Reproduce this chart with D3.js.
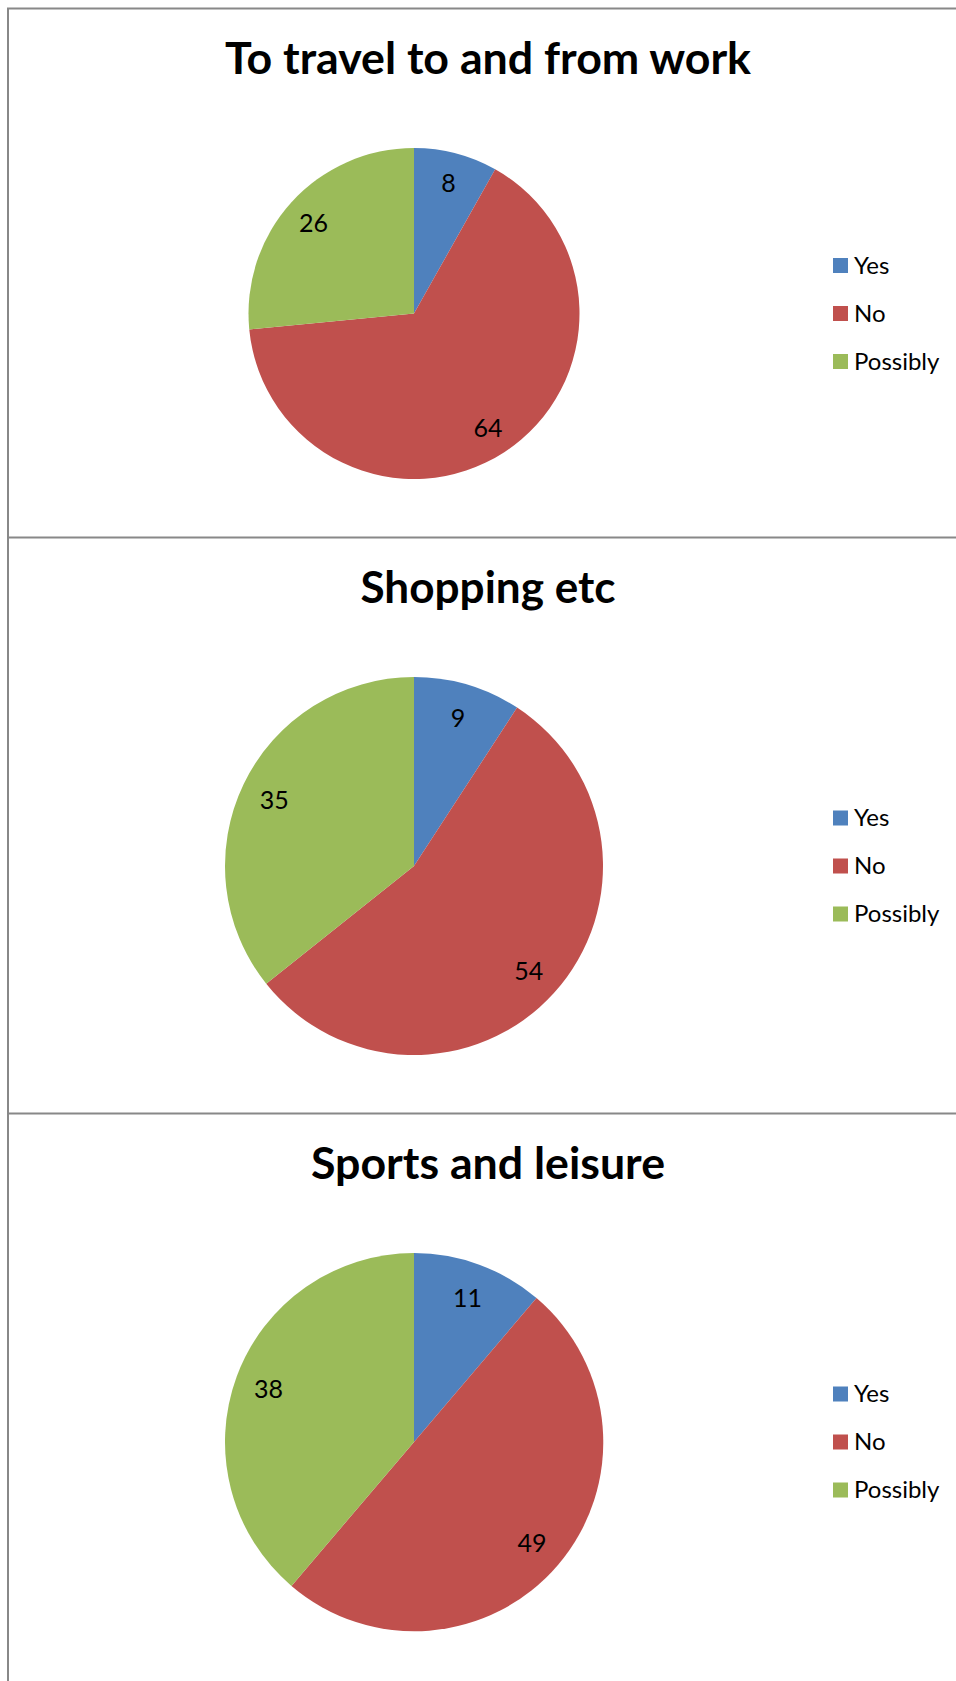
<!DOCTYPE html>
<html>
<head>
<meta charset="utf-8">
<script src="https://cdn.jsdelivr.net/npm/d3@7"></script>
<style>
  html, body { margin: 0; padding: 0; background: #ffffff; }
  svg { display: block; }
</style>
</head>
<body>
<div id="chart"></div>
<script>
// Survey answers, one pie per journey purpose
const titles = ["To travel to and from work", "Shopping etc", "Sports and leisure"];
const answers = ["Yes", "No", "Possibly"];
const travelToWork = [8, 64, 26];
const shopping = [9, 54, 35];
const sportsLeisure = [11, 49, 38];
const panelValues = [travelToWork, shopping, sportsLeisure];

const colors = ["#4F81BD", "#C0504D", "#9BBB59"];
const width = 956, height = 1681;

// Stacked panel frames (top edge and height of each chart box)
const panels = [
  { top: 8, height: 529, titleWidth: 526 },
  { top: 537, height: 576, titleWidth: 255 },
  { top: 1113, height: 576, titleWidth: 354 }
];

const svg = d3.select("#chart").append("svg")
  .attr("width", width).attr("height", height);

svg.append("rect").attr("width", width).attr("height", height).attr("fill", "#fff");

const color = d3.scaleOrdinal().domain(answers).range(colors);
const pie = d3.pie().sort(null).value(d => d.value);

const cx = 414;
const legendX = 833;

panels.forEach((p, i) => {
  const g = svg.append("g");
  const data = answers.map((a, k) => ({ answer: a, value: panelValues[i][k] }));

  // Title
  g.append("text")
    .attr("x", 488).attr("y", p.top + 66)
    .attr("text-anchor", "middle")
    .attr("font-family", "Lato, 'Open Sans', sans-serif")
    .attr("font-weight", 700)
    .attr("font-size", 44)
    .attr("textLength", p.titleWidth)
    .attr("lengthAdjust", "spacingAndGlyphs")
    .attr("fill", "#000")
    .text(titles[i]);

  // Pie
  const r = (p.height - 198) / 2;
  const cy = p.top + 140 + r;
  const arc = d3.arc().innerRadius(0).outerRadius(r);
  const labelArc = d3.arc().innerRadius(r * 0.82).outerRadius(r * 0.82);
  const arcs = pie(data);

  const pg = g.append("g").attr("transform", `translate(${cx},${cy})`);
  pg.selectAll("path").data(arcs).join("path")
    .attr("d", arc)
    .attr("fill", d => color(d.data.answer));

  pg.selectAll("text").data(arcs).join("text")
    .attr("transform", d => `translate(${labelArc.centroid(d)})`)
    .attr("text-anchor", "middle")
    .attr("dominant-baseline", "central")
    .attr("font-family", "Lato, 'Open Sans', sans-serif")
    .attr("font-size", 25)
    .attr("fill", "#000")
    .text(d => d.data.value);

  // Legend
  const rowY = d3.scalePoint().domain(answers).range([cy - 48, cy + 48]);
  const lg = g.append("g");
  const items = lg.selectAll("g").data(answers).join("g")
    .attr("transform", a => `translate(${legendX},${rowY(a)})`);
  items.append("rect")
    .attr("x", 0).attr("y", -7.5).attr("width", 15).attr("height", 15)
    .attr("fill", a => color(a));
  items.append("text")
    .attr("x", 21).attr("y", 8)
    .attr("font-family", "Lato, 'Open Sans', sans-serif")
    .attr("font-size", 24)
    .attr("fill", "#000")
    .text(a => a);
});

// Chart frames: left edge, top edge and dividers between panels
const frame = svg.append("g").attr("stroke", "#888888").attr("stroke-width", 2).attr("fill", "none");
frame.append("line").attr("x1", 8).attr("x2", 8).attr("y1", 8).attr("y2", height);
panels.forEach(p => {
  frame.append("line").attr("x1", 7).attr("x2", width).attr("y1", p.top + 0.5).attr("y2", p.top + 0.5);
});
</script>
</body>
</html>
